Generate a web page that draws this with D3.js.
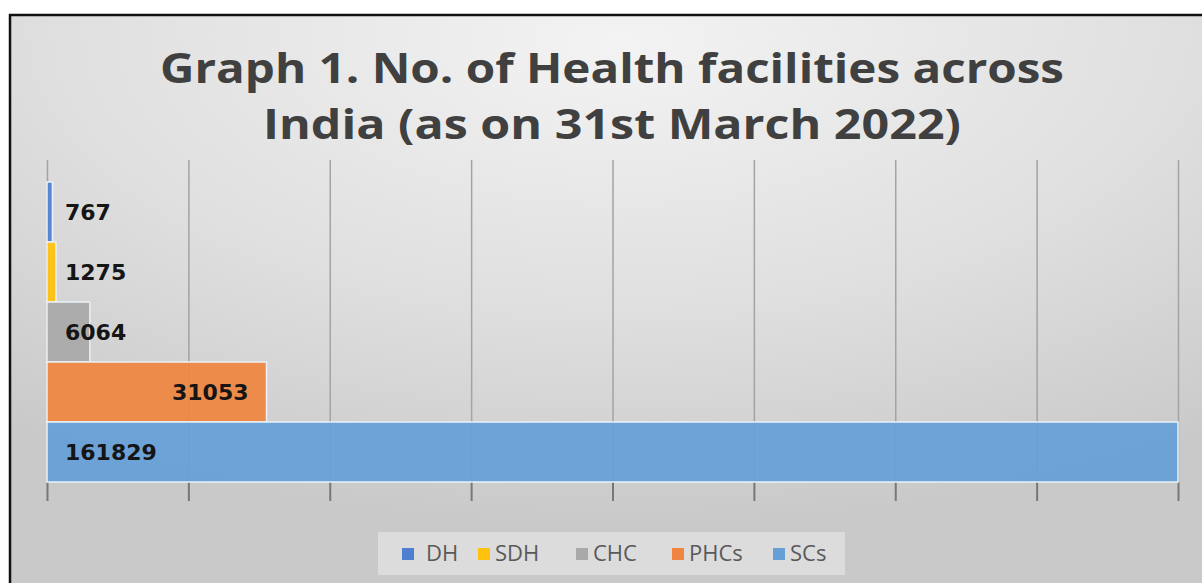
<!DOCTYPE html>
<html>
<head>
<meta charset="utf-8">
<script src="https://cdn.jsdelivr.net/npm/d3@7"></script>
<style>
  body { margin: 0; background: #ffffff; }
  svg { display: block; }
</style>
</head>
<body>
<script>
// chart data
const categories = ["DH", "SDH", "CHC", "PHCs", "SCs"];
const values = [767, 1275, 6064, 31053, 161829];
const colors = ["#4f7fd0", "#ffc20e", "#a9a9a9", "#ef8540", "#659fd6"];
const labelPlaces = ["base", "base", "base", "end", "base"];
const tickValues = [0, 20000, 40000, 60000, 80000, 100000, 120000, 140000, 160000];
const titleLines = ["Graph 1. No. of Health facilities across", "India (as on 31st March 2022)"];

// layout
const width = 1202;
const height = 583;
const plotLeft = 47;
const plotRight = 1178;
const barsTop = 182;
const barsBottom = 482;
const gridTop = 160;
const tickBottom = 501;
const titleWidths = [904, 698];

const svg = d3.select("body").append("svg")
  .attr("width", width)
  .attr("height", height);

const defs = svg.append("defs");
const grad = defs.append("radialGradient")
  .attr("id", "bg")
  .attr("cx", "50%").attr("cy", "0%")
  .attr("r", "85%")
  .attr("fx", "50%").attr("fy", "5%");
grad.append("stop").attr("offset", "0%").attr("stop-color", "#f3f3f3");
grad.append("stop").attr("offset", "55%").attr("stop-color", "#dfdfdf");
grad.append("stop").attr("offset", "100%").attr("stop-color", "#c9c9c9");

// background + frame
svg.append("rect")
  .attr("x", 10).attr("y", 15)
  .attr("width", width + 20).attr("height", height + 20)
  .attr("fill", "url(#bg)")
  .attr("stroke", "#111")
  .attr("stroke-width", 2.5);

// title
svg.append("g")
  .selectAll("text")
  .data(titleLines)
  .enter()
  .append("text")
  .attr("text-anchor", "middle")
  .attr("font-family", "'Open Sans', sans-serif")
  .attr("font-weight", "bold")
  .attr("font-size", 42)
  .attr("fill", "#404040")
  .attr("x", 612)
  .attr("y", function(d, i) { return 83 + i * 56; })
  .attr("textLength", function(d, i) { return titleWidths[i]; })
  .attr("lengthAdjust", "spacingAndGlyphs")
  .text(function(d) { return d; });

const xScale = d3.scaleLinear()
  .domain([0, d3.max(tickValues)])
  .range([plotLeft, plotRight])
  .clamp(true);

const yScale = d3.scaleBand()
  .domain(categories)
  .range([barsTop, barsBottom])
  .padding(0);

// gridlines and ticks (no labels on the value axis)
const axis = svg.append("g")
  .attr("transform", "translate(0," + barsBottom + ")")
  .call(d3.axisBottom(xScale)
    .tickValues(tickValues)
    .tickFormat("")
    .tickSizeInner(-(barsBottom - gridTop))
    .tickSizeOuter(0));
axis.select(".domain").remove();
axis.selectAll("line")
  .attr("stroke", "#a3a3a3")
  .attr("stroke-width", 1.5);

const ticks = svg.append("g")
  .attr("transform", "translate(0," + barsBottom + ")")
  .call(d3.axisBottom(xScale)
    .tickValues(tickValues)
    .tickFormat("")
    .tickSizeInner(tickBottom - barsBottom)
    .tickSizeOuter(0));
ticks.select(".domain").remove();
ticks.selectAll("line")
  .attr("stroke", "#777")
  .attr("stroke-width", 2);

// bars
const bars = svg.selectAll(".bar")
  .data(categories)
  .enter()
  .append("g")
  .attr("class", "bar");

bars.append("rect")
  .attr("x", xScale(0))
  .attr("y", function(d) { return yScale(d); })
  .attr("width", function(d, i) { return xScale(values[i]) - xScale(0); })
  .attr("height", yScale.bandwidth())
  .attr("fill", function(d, i) { return colors[i]; })
  .attr("fill-opacity", 0.93)
  .attr("stroke", "#eaf1f8")
  .attr("stroke-width", 1.5);

bars.append("text")
  .attr("x", function(d, i) {
    return labelPlaces[i] === "end" ? xScale(values[i]) - 18 : plotLeft + 18;
  })
  .attr("y", function(d) { return yScale(d) + yScale.bandwidth() / 2; })
  .attr("dy", "0.36em")
  .attr("text-anchor", function(d, i) { return labelPlaces[i] === "end" ? "end" : "start"; })
  .attr("font-family", "'DejaVu Sans', sans-serif")
  .attr("font-weight", "bold")
  .attr("font-size", 22)
  .attr("fill", "#151515")
  .text(function(d, i) { return values[i]; });

// legend
svg.append("rect")
  .attr("x", 378).attr("y", 532)
  .attr("width", 467).attr("height", 43)
  .attr("fill", "#e4e4e4")
  .attr("fill-opacity", 0.7);

const legendX = [402, 478, 576, 672, 773];
const legend = svg.selectAll(".legend")
  .data(categories)
  .enter()
  .append("g")
  .attr("class", "legend")
  .attr("transform", function(d, i) { return "translate(" + legendX[i] + ",548)"; });

legend.append("rect")
  .attr("width", 12)
  .attr("height", 12)
  .attr("fill", function(d, i) { return colors[i]; });

legend.append("text")
  .attr("x", function(d, i) { return i === 0 ? 24 : 17; })
  .attr("y", 13)
  .attr("font-family", "'Open Sans', sans-serif")
  .attr("font-size", 22)
  .attr("fill", "#595959")
  .text(function(d) { return d; });
</script>
</body>
</html>
